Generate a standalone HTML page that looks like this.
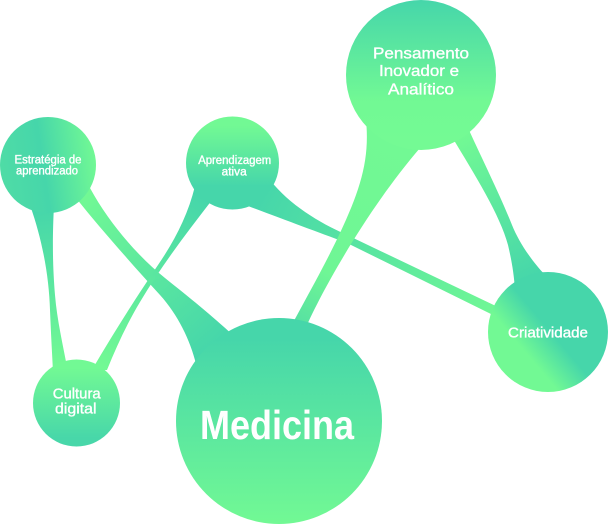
<!DOCTYPE html>
<html>
<head>
<meta charset="utf-8">
<style>
html,body{margin:0;padding:0;background:#fff;}
svg{display:block;}
text{font-family:"Liberation Sans",Arial,sans-serif;fill:#fff;}
.t{stroke:#fff;stroke-width:0.35;}
</style>
</head>
<body>
<svg width="609" height="524" viewBox="0 0 609 524" xmlns="http://www.w3.org/2000/svg">
<defs>
  <linearGradient id="gPens" x1="0" y1="0" x2="0" y2="1">
    <stop offset="0" stop-color="#46D6AA"/>
    <stop offset="0.68" stop-color="#72F994"/>
    <stop offset="1" stop-color="#74FA94"/>
  </linearGradient>
  <linearGradient id="gEst" x1="0" y1="0.55" x2="1" y2="0.4">
    <stop offset="0" stop-color="#4FDCA6"/>
    <stop offset="0.45" stop-color="#46D6AA"/>
    <stop offset="1" stop-color="#72F994"/>
  </linearGradient>
  <linearGradient id="gApr" x1="0" y1="0" x2="0" y2="1">
    <stop offset="0.1" stop-color="#72F994"/>
    <stop offset="0.75" stop-color="#46D6AA"/>
  </linearGradient>
  <linearGradient id="gCul" x1="0" y1="0" x2="0" y2="1">
    <stop offset="0.1" stop-color="#72F994"/>
    <stop offset="0.9" stop-color="#48D7A9"/>
  </linearGradient>
  <linearGradient id="gMed" x1="0" y1="0" x2="0" y2="1">
    <stop offset="0.1" stop-color="#46D6AA"/>
    <stop offset="1" stop-color="#72F994"/>
  </linearGradient>
  <linearGradient id="gCri" x1="0.3" y1="0.72" x2="0.62" y2="0.45">
    <stop offset="0.1" stop-color="#72F994"/>
    <stop offset="0.75" stop-color="#46D6AA"/>
  </linearGradient>

  <linearGradient id="cA" gradientUnits="userSpaceOnUse" x1="42" y1="210" x2="60" y2="365">
    <stop offset="0" stop-color="#46D6AA"/>
    <stop offset="1" stop-color="#72F994"/>
  </linearGradient>
  <linearGradient id="cB" gradientUnits="userSpaceOnUse" x1="84" y1="195" x2="215" y2="345">
    <stop offset="0" stop-color="#72F994"/>
    <stop offset="1" stop-color="#46D6AA"/>
  </linearGradient>
  <linearGradient id="cC" gradientUnits="userSpaceOnUse" x1="200" y1="195" x2="100" y2="365">
    <stop offset="0" stop-color="#46D6AA"/>
    <stop offset="1" stop-color="#72F994"/>
  </linearGradient>
  <linearGradient id="cD" gradientUnits="userSpaceOnUse" x1="262" y1="195" x2="495" y2="310">
    <stop offset="0" stop-color="#46D6AA"/>
    <stop offset="1" stop-color="#70F795"/>
  </linearGradient>
  <linearGradient id="cE" gradientUnits="userSpaceOnUse" x1="390" y1="140" x2="296" y2="328">
    <stop offset="0" stop-color="#72F994"/>
    <stop offset="0.7" stop-color="#6FF695"/>
    <stop offset="1" stop-color="#55DFA3"/>
  </linearGradient>
  <linearGradient id="cF" gradientUnits="userSpaceOnUse" x1="460" y1="138" x2="530" y2="280">
    <stop offset="0" stop-color="#72F994"/>
    <stop offset="1" stop-color="#46D6AA"/>
  </linearGradient>
</defs>

<!-- connectors -->
<path fill="url(#cA)" d="M30,205 C44,245 49,280 50,310 C51,335 52,352 53,372 L68,372 C63,345 57,320 55,295 C53,270 52,245 54,205 Z"/>
<path fill="url(#cB)" d="M90,188 C110,225 140,258 165,278 C190,298 210,314 234,336 L196,364 C190,340 178,315 160,295 C130,262 100,228 76,198 Z"/>
<path fill="url(#cC)" d="M195,186 C188,215 175,240 158,265 C140,292 115,330 92,370 L107,370 C117,345 128,322 140,302 C160,268 185,235 212,200 Z"/>
<path fill="url(#cD)" d="M270,180 C290,205 318,222 347,235 L500,308 L495,316 L347,243 C315,231 285,220 248,206 Z"/>
<path fill="url(#cE)" d="M366,120 C370,160 360,190 340,233 C325,265 305,300 288,332 L304,332 C318,298 365,212 420,148 Z"/>
<path fill="url(#cF)" d="M452,137 C475,175 500,215 508,245 C512,262 514,275 515,290 L548,278 C535,265 520,245 512,225 C500,195 485,165 468,128 Z"/>

<!-- circles -->
<circle cx="421" cy="75" r="75" fill="url(#gPens)"/>
<circle cx="48" cy="165" r="48" fill="url(#gEst)"/>
<circle cx="232.5" cy="163" r="46.5" fill="url(#gApr)"/>
<circle cx="76.5" cy="403" r="43.5" fill="url(#gCul)"/>
<circle cx="279" cy="421" r="103" fill="url(#gMed)"/>
<circle cx="548" cy="332" r="60" fill="url(#gCri)"/>

<!-- labels -->
<text class="t" x="421" y="58.3" font-size="16" text-anchor="middle" textLength="96" lengthAdjust="spacingAndGlyphs">Pensamento</text>
<text class="t" x="419" y="76" font-size="16" text-anchor="middle" textLength="80" lengthAdjust="spacingAndGlyphs">Inovador e</text>
<text class="t" x="421" y="94.3" font-size="16" text-anchor="middle" textLength="66" lengthAdjust="spacingAndGlyphs">Analítico</text>

<text class="t" x="48" y="163.3" font-size="11.5" text-anchor="middle" textLength="67" lengthAdjust="spacingAndGlyphs">Estratégia de</text>
<text class="t" x="47" y="174.3" font-size="11.5" text-anchor="middle" textLength="62" lengthAdjust="spacingAndGlyphs">aprendizado</text>

<text class="t" x="234.7" y="164" font-size="11.5" text-anchor="middle" textLength="73" lengthAdjust="spacingAndGlyphs">Aprendizagem</text>
<text class="t" x="234.2" y="175.7" font-size="11.5" text-anchor="middle" textLength="25" lengthAdjust="spacingAndGlyphs">ativa</text>

<text class="t" x="76.7" y="398.3" font-size="15" text-anchor="middle" textLength="48" lengthAdjust="spacingAndGlyphs">Cultura</text>
<text class="t" x="75.8" y="413.3" font-size="15" text-anchor="middle" textLength="41.5" lengthAdjust="spacingAndGlyphs">digital</text>

<text x="277" y="439" font-size="40.5" font-weight="bold" text-anchor="middle" textLength="154" lengthAdjust="spacingAndGlyphs">Medicina</text>

<text class="t" x="548" y="337.7" font-size="14.5" text-anchor="middle" textLength="80" lengthAdjust="spacingAndGlyphs">Criatividade</text>
</svg>
</body>
</html>
